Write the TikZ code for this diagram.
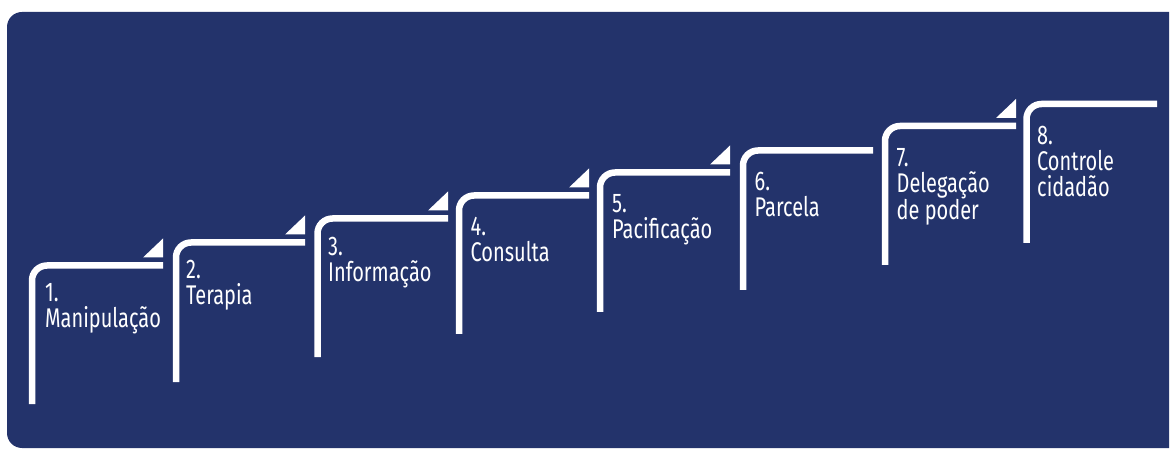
\documentclass[tikz,border=0pt]{standalone}
\usepackage{fontspec}
\setmainfont{Fira Sans}[FakeStretch=0.74]
\definecolor{bgblue}{RGB}{35,51,107}
\begin{document}
\begin{tikzpicture}[x=1pt,y=-1pt,
  stair/.style={draw=white,line width=6.5pt,rounded corners=15pt},
  tri/.style={fill=white},
  lbl/.style={text=white,anchor=base west,align=left,inner sep=0pt,
    font=\fontsize{27}{26}\selectfont}]
\useasboundingbox (0,0) rectangle (1171,449);
\fill[bgblue] (1169,12) [rounded corners=15pt] -- (7,12) -- (7,448) [sharp corners] -- (1169,448) -- cycle;
% stairs: x of vertical, top y, bottom y, right end
\foreach \x/\t/\b/\r in {32/265.5/404/163, 176/242.5/382/305, 317.5/218.5/357/448, 459/195.5/334/589, 600/172.5/312/730, 743/150.5/290/873, 885/126/265/1016, 1026.5/104/243/1157}{
  \draw[stair] (\x,\b) -- (\x,\t) -- (\r,\t);
}
% triangles
\foreach \r/\t in {163/265.5, 305/242.5, 448/218.5, 589/195.5, 730/172.5, 1016/126}{
  \fill[tri] (\r-20,\t-8) -- (\r,\t-8) -- (\r,\t-27) -- cycle;
}
% labels: anchor is the baseline of the last line
\node[lbl] (s1) at (45,327) {1.\\Manipulação};
\node[lbl] (s2) at (186,305) {2.\\Terapia};
\node[lbl] (s3) at (328,281.7) {3.\\Informação};
\node[lbl] (s4) at (470.5,261.7) {4.\\Consulta};
\node[lbl] (s5) at (612,238.7) {5.\\Pacificação};
\node[lbl] (s6) at (754.5,217) {6.\\Parcela};
\node[lbl] (s7) at (896.5,220) {7.\\Delegação\\de poder};
\node[lbl] (s8) at (1037,197) {8.\\Controle\\cidadão};
\end{tikzpicture}
\end{document}
